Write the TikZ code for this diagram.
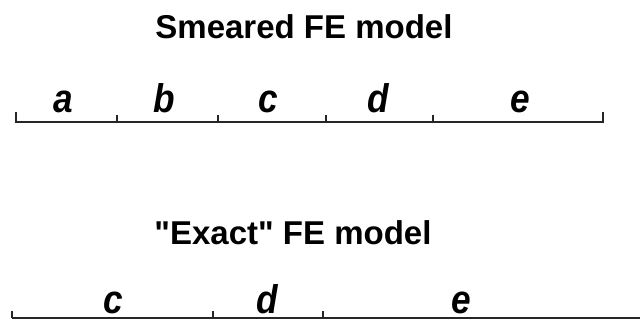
\documentclass[tikz,border=0pt]{standalone}
\usepackage{fontspec}
\setmainfont{Liberation Sans}
\newfontfamily\quotefont{Liberation Sans}
\newcommand{\stretchlbl}[1]{\scalebox{1.1}[1.25]{#1}}
\begin{document}
\begin{tikzpicture}[x=1pt,y=-1pt,
  title/.style={font=\fontsize{33}{36}\selectfont\bfseries, anchor=base, inner sep=0pt},
  lbl/.style={font=\fontsize{32}{36}\selectfont\bfseries\itshape, anchor=base, inner sep=0pt, text depth=0pt},
  bar/.style={line width=2pt, black!85},
  tick/.style={line width=2pt, black!85}]
\useasboundingbox[fill=white] (0,0) rectangle (640,320);
% titles
\node[title] (t1) at (304,39) {Smeared FE model};
\node[title] (t2) at (293,245) {{\quotefont\bfseries "}Exact{\quotefont\bfseries "} FE model};
% top bar
\coordinate (p0) at (16,122);
\coordinate (p1) at (117,122);
\coordinate (p2) at (218,122);
\coordinate (p3) at (326,122);
\coordinate (p4) at (433,122);
\coordinate (p5) at (603,122);
\draw[bar] (p0) -- (p5);
\draw[tick] (p0) ++(0,1) -- ++(0,-11);
\draw[tick] (p5) ++(0,1) -- ++(0,-11);
\foreach \p in {p1,p2,p3,p4} \draw[tick] (\p) -- ++(0,-7);
\node[lbl] (la) at (63,113) {\stretchlbl{a}};
\node[lbl] (lb) at (164,113) {\stretchlbl{b}};
\node[lbl] (lc) at (268,113) {\stretchlbl{c}};
\node[lbl] (ld) at (378,113) {\stretchlbl{d}};
\node[lbl] (le) at (520,113) {\stretchlbl{e}};
% bottom bar
\coordinate (q0) at (12,318.5);
\coordinate (q1) at (213,318.5);
\coordinate (q2) at (323,318.5);
\coordinate (q3) at (642,318.5);
\draw[bar] (q0) -- (q3);
\foreach \p in {q0,q1,q2} \draw[tick] (\p) -- ++(0,-7);
\node[lbl] (mc) at (113,314) {\stretchlbl{c}};
\node[lbl] (md) at (267,314) {\stretchlbl{d}};
\node[lbl] (me) at (461,314) {\stretchlbl{e}};
\end{tikzpicture}
\end{document}
